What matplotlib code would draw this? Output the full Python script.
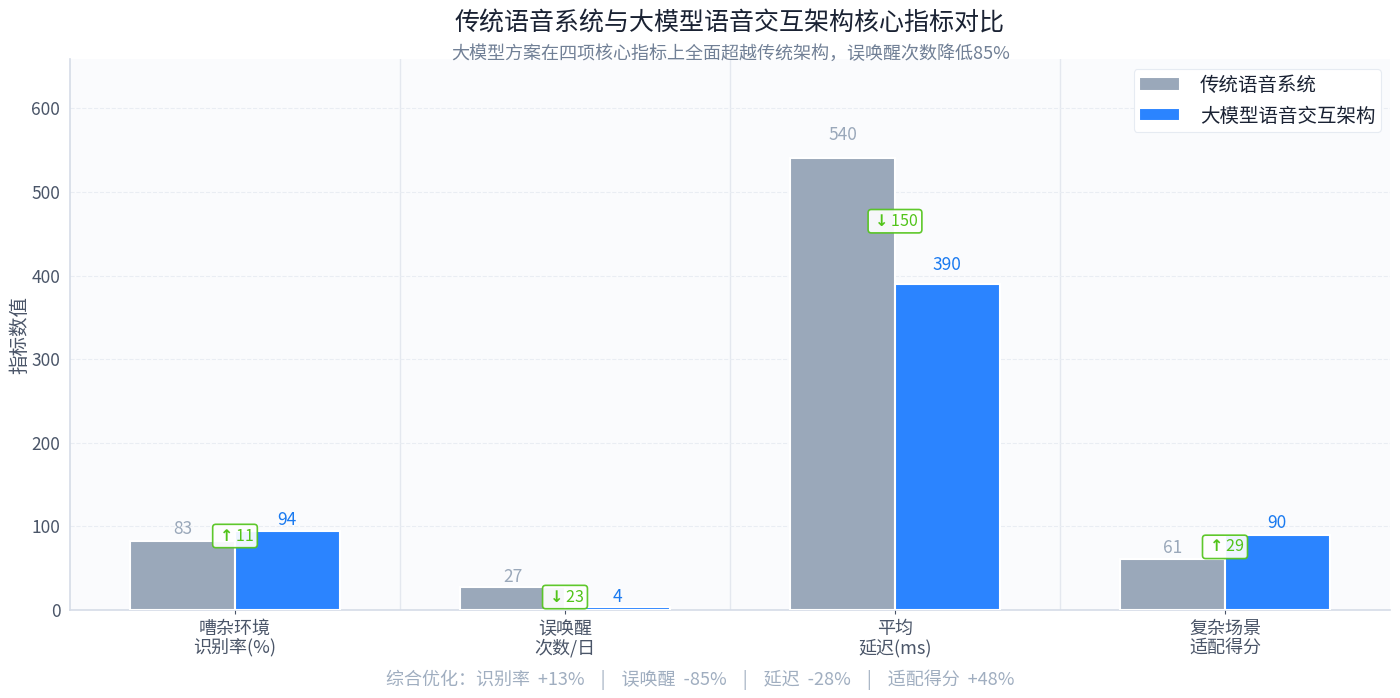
import matplotlib
matplotlib.use('Agg')
import matplotlib.pyplot as plt
import numpy as np

plt.rcParams['font.family'] = ['Noto Sans CJK SC', 'DejaVu Sans']
plt.rcParams['axes.unicode_minus'] = False
plt.rcParams['mathtext.fontset'] = 'dejavusans'
plt.rcParams['mathtext.default'] = 'regular'

# Data
categories = ['嘈杂环境\n识别率(%)', '误唤醒\n次数/日', '平均\n延迟(ms)', '复杂场景\n适配得分']
traditional = [83, 27, 540, 61]
llm = [94, 4, 390, 90]
badges = [r'$\mathbf{\uparrow}$11', r'$\mathbf{\downarrow}$23', r'$\mathbf{\downarrow}$150', r'$\mathbf{\uparrow}$29']
yticks = [0, 100, 200, 300, 400, 500, 600]

title = '传统语音系统与大模型语音交互架构核心指标对比'
subtitle = '大模型方案在四项核心指标上全面超越传统架构，误唤醒次数降低85%'
footer = '综合优化：识别率  +13%    |    误唤醒  -85%    |    延迟  -28%    |    适配得分  +48%'

GRAY = '#9aa8ba'
BLUE = '#2b84ff'
GREEN = '#52c41a'
DARK = '#4a5568'

fig = plt.figure(figsize=(14, 6.98), dpi=100, facecolor='white')
ax = fig.add_axes([70 / 1400, 1 - 610 / 698, 1320 / 1400, 551 / 698])
ax.set_facecolor('#fafbfd')

x = np.arange(len(categories))
width = 0.317
ax.bar(x - width / 2, traditional, width, color=GRAY, edgecolor='white', linewidth=1.5, label='传统语音系统', zorder=3)
ax.bar(x + width / 2, llm, width, color=BLUE, edgecolor='white', linewidth=1.5, label='大模型语音交互架构', zorder=3)

ax.set_xlim(-0.5, 3.5)
ax.set_ylim(0, 659)
ax.set_xticks(x)
ax.set_xticklabels(categories, fontsize=13, color=DARK, linespacing=1.08)
ax.set_yticks(yticks)
ax.tick_params(axis='y', labelsize=12.5, labelcolor=DARK, length=0, pad=7)
ax.tick_params(axis='x', length=3, width=0.8, color=DARK, pad=4)
ax.set_ylabel('指标数值', fontsize=14, color=DARK)
ax.yaxis.set_label_coords(-0.0303, 0.5)

ax.grid(axis='y', linestyle='--', linewidth=0.8, color='#e9edf3', zorder=0)
for sep in x[:-1] + 0.5:
    ax.axvline(sep, color='#e4e8ef', linewidth=1.0, zorder=1)

for s in ['top', 'right']:
    ax.spines[s].set_visible(False)
for s in ['left', 'bottom']:
    ax.spines[s].set_color('#d5dce7')
    ax.spines[s].set_linewidth(1.2)

# Value labels, badges
for i in range(len(categories)):
    for val, off, col in [(traditional[i], -width / 2, GRAY), (llm[i], width / 2, '#1a7af0')]:
        ax.annotate(str(val), (x[i] + off, val), xytext=(0, (9.5 + val * 0.025) * 0.72),
                    textcoords='offset points', ha='center', va='center', fontsize=12.5, color=col, zorder=5)
    ax.text(x[i], (traditional[i] + llm[i]) / 2, badges[i], ha='center', va='center', fontsize=11.5,
            color=GREEN, zorder=6,
            bbox=dict(boxstyle='round,pad=0.2', facecolor='white', edgecolor=GREEN, linewidth=1.2, alpha=0.92))

leg = ax.legend(loc='upper right', fontsize=14, frameon=True, framealpha=1, edgecolor='#e6ebf2',
                facecolor='white', bbox_to_anchor=(0.9932, 0.982), borderaxespad=0, borderpad=0.3,
                handlelength=2.1, handletextpad=1.0)
leg.get_frame().set_linewidth(0.8)
for t in leg.get_texts():
    t.set_color('#1a2233')

fig.text(730 / 1400, 1 - 23 / 698, title, ha='center', va='center', fontsize=18, color='#1a2233')
fig.text(731 / 1400, 1 - 54 / 698, subtitle, ha='center', va='center', fontsize=13, color='#718096')
fig.text(700 / 1400, 1 - 680 / 698, footer, ha='center', va='center', fontsize=13, color='#a0aec0')

fig.savefig('out.png', dpi=100, facecolor='white')
